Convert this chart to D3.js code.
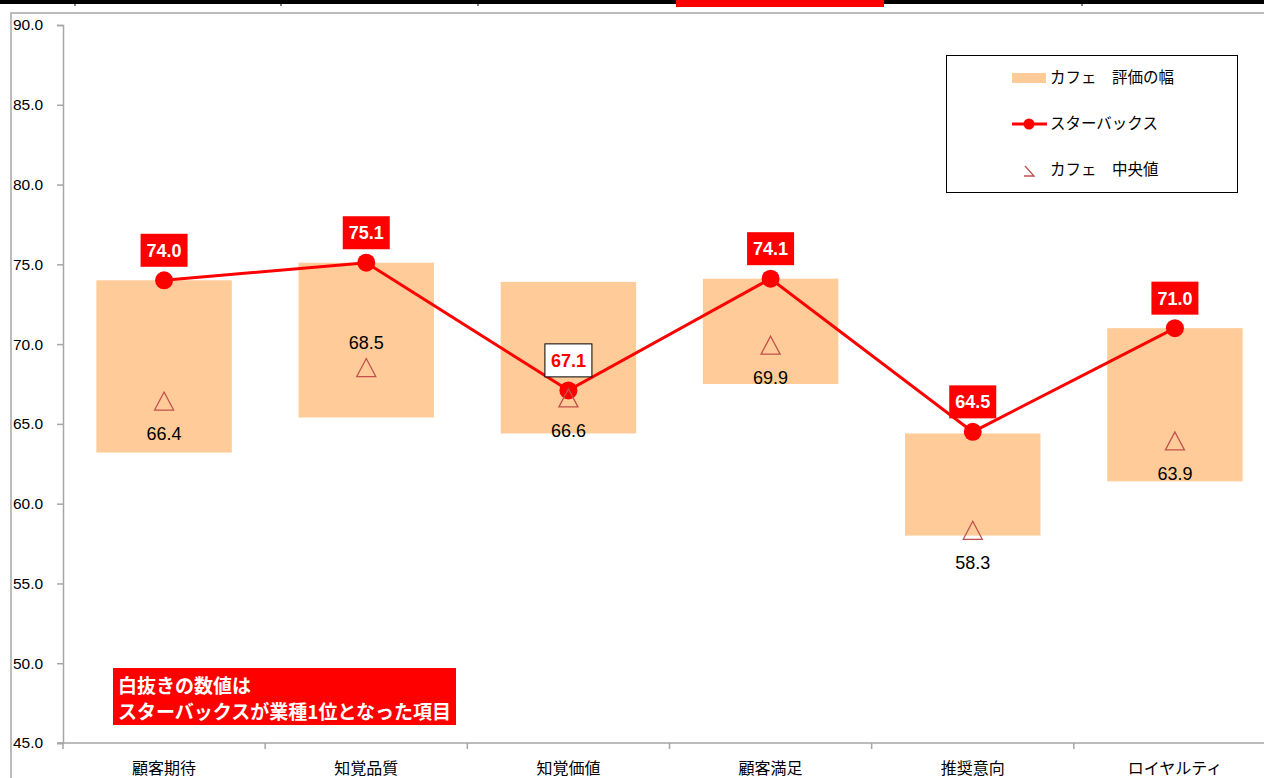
<!DOCTYPE html>
<html>
<head>
<meta charset="utf-8">
<script src="https://cdn.jsdelivr.net/npm/d3@7"></script>
<style>
  body { margin: 0; background: #fff; }
  text { font-family: "Liberation Sans", Arial, "Noto Sans CJK JP", sans-serif; }
  .jp { font-family: "Noto Sans CJK JP", sans-serif; }
</style>
</head>
<body>
<div class="chart"></div>
<script>
// cafe rating chart: range bars, starbucks line, cafe median triangles

var svgWidth = 1264;
var svgHeight = 778;

// data
var categories = ["顧客期待", "知覚品質", "知覚価値", "顧客満足", "推奨意向", "ロイヤルティ"];
var rangeLow = [63.2, 65.4, 64.4, 67.5, 58.0, 61.4];
var rangeHigh = [74.0, 75.1, 73.9, 74.1, 64.4, 71.0];
var starbucks = [74.0, 75.1, 67.1, 74.1, 64.5, 71.0];
var median = [66.4, 68.5, 66.6, 69.9, 58.3, 63.9];
// whether starbucks is #1 in that item (white-on-red label)
var isTop = [true, true, false, true, true, true];
var medianLabelPos = ["below", "above", "below", "below", "below", "below"];
var yTicks = [45, 50, 55, 60, 65, 70, 75, 80, 85, 90];

var svg = d3.select(".chart")
  .append("svg")
  .attr("width", svgWidth)
  .attr("height", svgHeight);

// spreadsheet strip at the very top
svg.append("rect")
  .attr("x", 0).attr("y", 0)
  .attr("width", svgWidth).attr("height", 4)
  .attr("fill", "#000");
[75, 281, 478, 1082].forEach(function(x) {
  svg.append("line")
    .attr("x1", x).attr("x2", x)
    .attr("y1", 0).attr("y2", 6)
    .attr("stroke", "#000").attr("stroke-width", 1);
});
svg.append("rect")
  .attr("x", 676).attr("y", 0)
  .attr("width", 208).attr("height", 7)
  .attr("fill", "#ff0000");

// chart area border
svg.append("path")
  .attr("d", "M11," + svgHeight + "V13H" + svgWidth)
  .attr("fill", "none")
  .attr("stroke", "#a6a6a6")
  .attr("stroke-width", 1.5);

// scales
var x = d3.scaleBand()
  .domain(categories)
  .range([63, 1276])
  .paddingInner(0)
  .paddingOuter(0);

var y = d3.scaleLinear()
  .domain([45, 90])
  .range([743, 25]);

var barW = x.bandwidth() * 0.67;
var cx = function(i) { return x(categories[i]) + x.bandwidth() / 2; };

// y axis
var yAxis = svg.append("g")
  .attr("transform", "translate(63,0)")
  .call(d3.axisLeft(y).tickValues(yTicks).tickFormat(d3.format(".1f")).tickSize(6).tickPadding(0));
yAxis.select(".domain").attr("stroke", "#a6a6a6").attr("stroke-width", 1.5);
yAxis.selectAll(".tick line").attr("stroke", "#a6a6a6").attr("stroke-width", 1.5);
yAxis.selectAll(".tick text")
  .attr("x", -50)
  .attr("text-anchor", "start")
  .attr("font-size", 15.5)
  .attr("fill", "#000");

// x axis
var xAxisG = svg.append("g");
xAxisG.append("line")
  .attr("x1", 57).attr("x2", svgWidth)
  .attr("y1", y(45)).attr("y2", y(45))
  .attr("stroke", "#a6a6a6").attr("stroke-width", 1.5);
categories.forEach(function(c) {
  xAxisG.append("line")
    .attr("x1", x(c)).attr("x2", x(c))
    .attr("y1", y(45)).attr("y2", y(45) + 6)
    .attr("stroke", "#a6a6a6").attr("stroke-width", 1.5);
});
xAxisG.selectAll(".cat")
  .data(categories)
  .enter()
  .append("text")
  .attr("class", "jp")
  .attr("x", (d, i) => cx(i))
  .attr("y", 774)
  .attr("text-anchor", "middle")
  .attr("font-size", 16)
  .attr("fill", "#000")
  .text(d => d);

// range bars
svg.selectAll(".bar")
  .data(categories)
  .enter()
  .append("rect")
  .attr("x", (d, i) => cx(i) - barW / 2)
  .attr("y", (d, i) => y(rangeHigh[i]))
  .attr("width", barW)
  .attr("height", (d, i) => y(rangeLow[i]) - y(rangeHigh[i]))
  .attr("fill", "#ffcc99");

// median labels
svg.selectAll(".medlabel")
  .data(median)
  .enter()
  .append("text")
  .attr("x", (d, i) => cx(i))
  .attr("y", (d, i) => y(d) + (medianLabelPos[i] === "above" ? -26 : 32))
  .attr("dy", "0.36em")
  .attr("text-anchor", "middle")
  .attr("font-size", 18)
  .attr("fill", "#000")
  .text(d => d.toFixed(1));

// starbucks line
var line = d3.line()
  .x((d, i) => cx(i))
  .y(d => y(d));

svg.append("path")
  .datum(starbucks)
  .attr("d", line)
  .attr("fill", "none")
  .attr("stroke", "#ff0000")
  .attr("stroke-width", 3);

svg.selectAll(".pt")
  .data(starbucks)
  .enter()
  .append("circle")
  .attr("cx", (d, i) => cx(i))
  .attr("cy", d => y(d))
  .attr("r", 9)
  .attr("fill", "#ff0000");

// median triangles (drawn over the line, as in the original)
var tri = function(px, py) {
  return "M" + px + "," + (py - 9.5) + "L" + (px + 9.5) + "," + (py + 8.5) + "L" + (px - 9.5) + "," + (py + 8.5) + "Z";
};
svg.selectAll(".tri")
  .data(median)
  .enter()
  .append("path")
  .attr("d", (d, i) => tri(cx(i), y(d)))
  .attr("fill", "none")
  .attr("stroke", "#c0504d")
  .attr("stroke-width", 1.3);

// starbucks labels
var labels = svg.selectAll(".sblabel")
  .data(starbucks)
  .enter()
  .append("g")
  .attr("transform", (d, i) => `translate(${cx(i)}, ${y(d) - 30})`);

labels.append("rect")
  .attr("x", -23.5).attr("y", -16.5)
  .attr("width", 47).attr("height", 33)
  .attr("fill", (d, i) => isTop[i] ? "#ff0000" : "#fff")
  .attr("stroke", (d, i) => isTop[i] ? "none" : "#000")
  .attr("stroke-width", 1);

labels.append("text")
  .attr("dy", "0.36em")
  .attr("text-anchor", "middle")
  .attr("font-size", 18)
  .attr("font-weight", "bold")
  .attr("fill", (d, i) => isTop[i] ? "#fff" : "#ff0000")
  .text(d => d.toFixed(1));

// legend
var legend = svg.append("g");
legend.append("rect")
  .attr("x", 946.5).attr("y", 55.5)
  .attr("width", 291).attr("height", 137)
  .attr("fill", "#fff")
  .attr("stroke", "#000").attr("stroke-width", 1);

legend.append("rect")
  .attr("x", 1012).attr("y", 73)
  .attr("width", 34).attr("height", 10)
  .attr("fill", "#ffcc99");
legend.append("line")
  .attr("x1", 1012).attr("x2", 1047)
  .attr("y1", 124).attr("y2", 124)
  .attr("stroke", "#ff0000").attr("stroke-width", 3);
legend.append("circle")
  .attr("cx", 1029).attr("cy", 124).attr("r", 5.5)
  .attr("fill", "#ff0000");
legend.append("path")
  .attr("d", "M1025,166L1034,176H1024")
  .attr("fill", "none")
  .attr("stroke", "#c0504d").attr("stroke-width", 1.3);

var legendNames = ["カフェ　評価の幅", "スターバックス", "カフェ　中央値"];
var legendY = [77, 123, 169];
legend.selectAll(".ltext")
  .data(legendNames)
  .enter()
  .append("text")
  .attr("class", "jp")
  .attr("x", 1050)
  .attr("y", (d, i) => legendY[i])
  .attr("dy", "0.36em")
  .attr("font-size", 15.5)
  .attr("fill", "#000")
  .text(d => d);

// note box
svg.append("rect")
  .attr("x", 113).attr("y", 668)
  .attr("width", 343).attr("height", 57)
  .attr("fill", "#ff0000");
var noteLines = ["白抜きの数値は", "スターバックスが業種1位となった項目"];
svg.selectAll(".note")
  .data(noteLines)
  .enter()
  .append("text")
  .attr("class", "jp")
  .attr("x", 118)
  .attr("y", (d, i) => 686 + i * 26)
  .attr("dy", "0.36em")
  .attr("font-size", 19)
  .attr("font-weight", "bold")
  .attr("fill", "#fff")
  .text(d => d);
</script>
</body>
</html>
